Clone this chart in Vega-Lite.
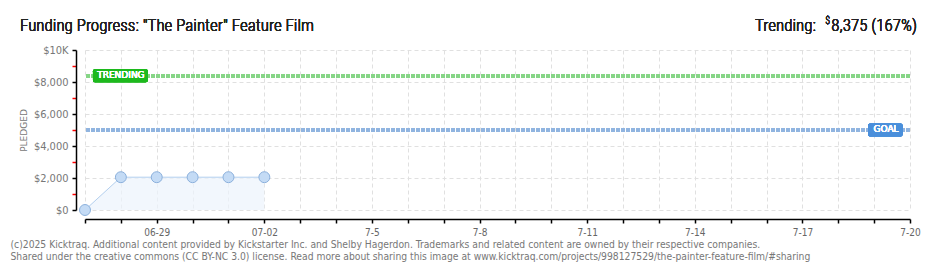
{
  "$schema": "https://vega.github.io/schema/vega-lite/v6.json",
  "width": 825,
  "height": 160,
  "autosize": "none",
  "padding": {"left": 85, "top": 50, "right": 30, "bottom": 60},
  "background": "white",
  "config": {"view": {"stroke": null}},
  "data": {
    "values": [
      {"date": "2025-06-27", "pledged": 0},
      {"date": "2025-06-28", "pledged": 2050},
      {"date": "2025-06-29", "pledged": 2050},
      {"date": "2025-06-30", "pledged": 2050},
      {"date": "2025-07-01", "pledged": 2050},
      {"date": "2025-07-02", "pledged": 2050}
    ]
  },
  "encoding": {
    "x": {
      "field": "date",
      "type": "temporal",
      "scale": {
        "type": "utc",
        "domain": [
          {"year": 2025, "month": 6, "date": 27, "utc": true},
          {"year": 2025, "month": 7, "date": 20, "utc": true}
        ]
      },
      "axis": {
        "tickCount": {"interval": "day", "step": 1},
        "labelExpr": "(round((datum.value - utc(2025,5,27))/864e5) % 3 == 2) ? (datum.value <= utc(2025,6,2) ? utcFormat(datum.value, '%m-%d') : utcFormat(datum.value, '%-m-%-d')) : ''",
        "labelOverlap": false,
        "labelBound": false,
        "labelFlush": false,
        "labelFont": "DejaVu Sans Condensed",
        "labelFontSize": 10,
        "labelColor": "#666666",
        "labelPadding": 4,
        "offset": 9,
        "domainColor": "#000000",
        "domainWidth": 1.5,
        "tickColor": "#000000",
        "tickSize": 4,
        "tickWidth": 1.5,
        "grid": true,
        "gridColor": "#e0e0e0",
        "gridDash": [4, 3],
        "title": [
          "(c)2025 Kicktraq. Additional content provided by Kickstarter Inc. and Shelby Hagerdon. Trademarks and related content are owned by their respective companies.",
          "Shared under the creative commons (CC BY-NC 3.0) license. Read more about sharing this image at www.kicktraq.com/projects/998127529/the-painter-feature-film/#sharing"
        ],
        "titleFont": "DejaVu Sans Condensed",
        "titleFontSize": 10.25,
        "titleFontWeight": "normal",
        "titleColor": "#777777",
        "titleAnchor": "start",
        "titleAlign": "left",
        "titleBaseline": "alphabetic",
        "titleLineHeight": 12,
        "titleX": -75,
        "titleY": 28
      }
    },
    "y": {
      "field": "pledged",
      "type": "quantitative",
      "scale": {"domain": [0, 10000], "nice": false, "zero": true},
      "axis": {
        "values": [0, 1000, 2000, 3000, 4000, 5000, 6000, 7000, 8000, 9000, 10000],
        "labelExpr": "datum.value % 2000 != 0 ? '' : (datum.value == 10000 ? '$10K' : '$' + format(datum.value, ','))",
        "labelFont": "DejaVu Sans Condensed",
        "labelFontSize": 11,
        "labelColor": "#777777",
        "labelPadding": 4,
        "offset": 9,
        "domainColor": "#000000",
        "domainWidth": 1.5,
        "tickSize": 4,
        "tickWidth": 1.5,
        "tickColor": {"condition": {"test": "datum.value % 2000 == 0", "value": "#000000"}, "value": "#ff0000"},
        "grid": true,
        "gridColor": "#e0e0e0",
        "gridDash": [4, 3],
        "gridOpacity": {"condition": {"test": "datum.value % 2000 == 0", "value": 1}, "value": 0},
        "title": "PLEDGED",
        "titleFont": "DejaVu Sans",
        "titleFontSize": 9,
        "titleFontWeight": "normal",
        "titleColor": "#777777",
        "titlePadding": 5
      }
    }
  },
  "layer": [
    {
      "mark": {"type": "area", "color": "#ecf3fc", "line": {"color": "#b3cfee", "strokeWidth": 1}}
    },
    {
      "mark": {"type": "rule", "color": "#86d586", "strokeWidth": 3, "strokeDash": [4, 1]},
      "encoding": {"x": null, "y": {"datum": 8375}}
    },
    {
      "mark": {"type": "rule", "color": "#90b4e0", "strokeWidth": 3, "strokeDash": [4, 1]},
      "encoding": {"x": null, "y": {"datum": 5000}}
    },
    {
      "mark": {"type": "point", "shape": "circle", "size": 120, "filled": true, "fill": "#c4dbf5", "stroke": "#8bb0dc", "strokeWidth": 1, "opacity": 1}
    },
    {
      "mark": {"type": "rect", "color": "#1db91d", "cornerRadius": 2},
      "encoding": {
        "x": {"datum": {"year": 2025, "month": 6, "date": 27, "hours": 5, "minutes": 20, "utc": true}},
        "x2": {"datum": {"year": 2025, "month": 6, "date": 28, "hours": 18, "utc": true}},
        "y": {"datum": 8800},
        "y2": {"datum": 7990}
      }
    },
    {
      "mark": {"type": "text", "text": "TRENDING", "color": "white", "font": "DejaVu Sans", "fontSize": 9, "fontWeight": "normal", "align": "center", "baseline": "middle"},
      "encoding": {
        "x": {"datum": {"year": 2025, "month": 6, "date": 28, "hours": 0, "utc": true}},
        "y": {"datum": 8420}
      }
    },
    {
      "mark": {"type": "rect", "color": "#4a8fdb", "cornerRadius": 2},
      "encoding": {
        "x": {"datum": {"year": 2025, "month": 7, "date": 18, "hours": 20, "utc": true}},
        "x2": {"datum": {"year": 2025, "month": 7, "date": 19, "hours": 19, "utc": true}},
        "y": {"datum": 5400},
        "y2": {"datum": 4590}
      }
    },
    {
      "mark": {"type": "text", "text": "GOAL", "color": "white", "font": "DejaVu Sans", "fontSize": 9, "fontWeight": "normal", "align": "center", "baseline": "middle"},
      "encoding": {
        "x": {"datum": {"year": 2025, "month": 7, "date": 19, "hours": 8, "utc": true}},
        "y": {"datum": 5040}
      }
    },
    {
      "mark": {"type": "text", "text": "Funding Progress: \"The Painter\" Feature Film", "color": "#222222", "font": "'Roboto Condensed Light', 'Roboto Condensed', Roboto", "fontWeight": 300, "fontSize": 17, "align": "left", "baseline": "alphabetic", "dx": -65, "dy": -19},
      "encoding": {
        "x": {"datum": {"year": 2025, "month": 6, "date": 27, "utc": true}},
        "y": {"datum": 10000}
      }
    },
    {
      "mark": {"type": "text", "text": "8,375 (167%)", "color": "#222222", "font": "'Roboto Condensed Light', 'Roboto Condensed', Roboto", "fontWeight": 300, "fontSize": 17, "align": "right", "baseline": "alphabetic", "dx": 7, "dy": -19},
      "encoding": {
        "x": {"datum": {"year": 2025, "month": 7, "date": 20, "utc": true}},
        "y": {"datum": 10000}
      }
    },
    {
      "mark": {"type": "text", "text": "$", "color": "#222222", "font": "'Roboto Condensed Light', 'Roboto Condensed', Roboto", "fontWeight": 300, "fontSize": 10, "align": "right", "baseline": "alphabetic", "dx": -80, "dy": -26},
      "encoding": {
        "x": {"datum": {"year": 2025, "month": 7, "date": 20, "utc": true}},
        "y": {"datum": 10000}
      }
    },
    {
      "mark": {"type": "text", "text": "Trending:", "color": "#222222", "font": "'Roboto Condensed Light', 'Roboto Condensed', Roboto", "fontWeight": 300, "fontSize": 17, "align": "right", "baseline": "alphabetic", "dx": -94, "dy": -19},
      "encoding": {
        "x": {"datum": {"year": 2025, "month": 7, "date": 20, "utc": true}},
        "y": {"datum": 10000}
      }
    }
  ]
}
